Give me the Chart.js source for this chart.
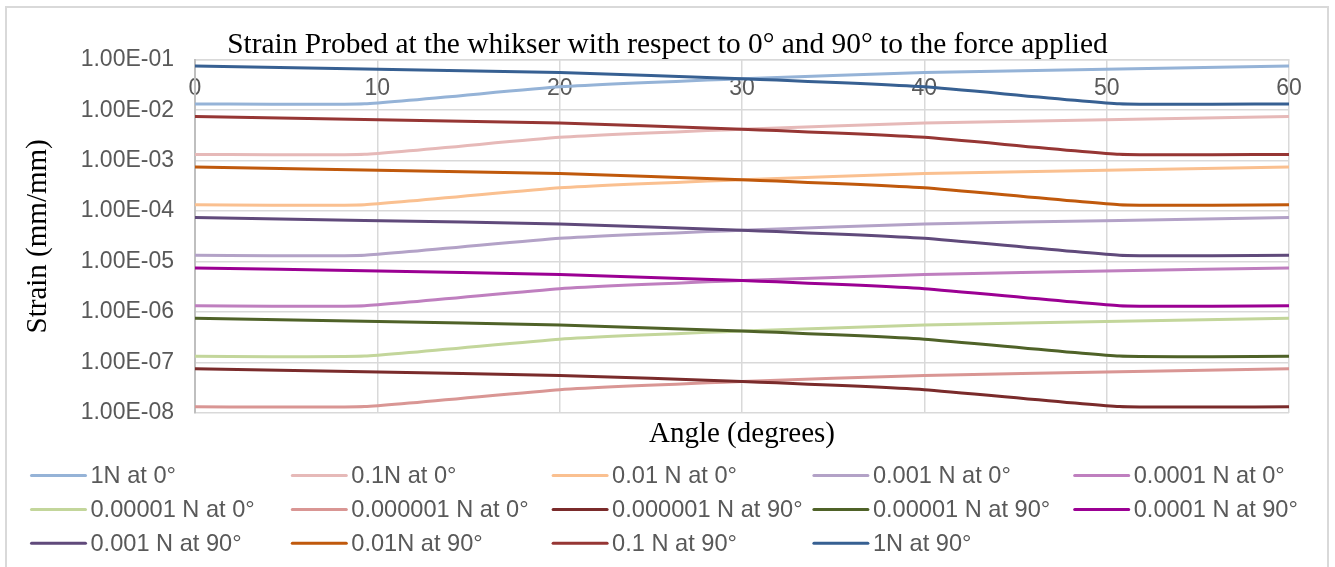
<!DOCTYPE html>
<html><head><meta charset="utf-8">
<script src="https://cdn.jsdelivr.net/npm/chart.js@4.4.1/dist/chart.umd.min.js"></script>
<style>html,body{margin:0;padding:0;background:#fff;} #wrap{width:1335px;height:567px;position:relative;}</style>
</head><body><div id="wrap"><canvas id="c" width="1335" height="567"></canvas></div>
<script>
// ---- data ----
const angles = [0, 9.3, 20, 30, 40, 50.7, 60];
const s_1N_0        = [1.33e-2, 1.34e-2, 2.9e-2, 4.2e-2, 5.55e-2, 6.55e-2, 7.5e-2];
const s_0_1N_0      = [1.33e-3, 1.34e-3, 2.9e-3, 4.2e-3, 5.55e-3, 6.55e-3, 7.5e-3];
const s_0_01N_0     = [1.33e-4, 1.34e-4, 2.9e-4, 4.2e-4, 5.55e-4, 6.55e-4, 7.5e-4];
const s_0_001N_0    = [1.33e-5, 1.34e-5, 2.9e-5, 4.2e-5, 5.55e-5, 6.55e-5, 7.5e-5];
const s_0_0001N_0   = [1.33e-6, 1.34e-6, 2.9e-6, 4.2e-6, 5.55e-6, 6.55e-6, 7.5e-6];
const s_0_00001N_0  = [1.33e-7, 1.34e-7, 2.9e-7, 4.2e-7, 5.55e-7, 6.55e-7, 7.5e-7];
const s_0_000001N_0 = [1.33e-8, 1.34e-8, 2.9e-8, 4.2e-8, 5.55e-8, 6.55e-8, 7.5e-8];
const s_0_000001N_90 = [7.5e-8, 6.55e-8, 5.55e-8, 4.2e-8, 2.9e-8, 1.34e-8, 1.33e-8];
const s_0_00001N_90  = [7.5e-7, 6.55e-7, 5.55e-7, 4.2e-7, 2.9e-7, 1.34e-7, 1.33e-7];
const s_0_0001N_90   = [7.5e-6, 6.55e-6, 5.55e-6, 4.2e-6, 2.9e-6, 1.34e-6, 1.33e-6];
const s_0_001N_90    = [7.5e-5, 6.55e-5, 5.55e-5, 4.2e-5, 2.9e-5, 1.34e-5, 1.33e-5];
const s_0_01N_90     = [7.5e-4, 6.55e-4, 5.55e-4, 4.2e-4, 2.9e-4, 1.34e-4, 1.33e-4];
const s_0_1N_90      = [7.5e-3, 6.55e-3, 5.55e-3, 4.2e-3, 2.9e-3, 1.34e-3, 1.33e-3];
const s_1N_90        = [7.5e-2, 6.55e-2, 5.55e-2, 4.2e-2, 2.9e-2, 1.34e-2, 1.33e-2];

const seriesLabels = ['1N at 0°','0.1N at 0°','0.01 N at 0°','0.001 N at 0°','0.0001 N at 0°',
  '0.00001 N at 0°','0.000001 N at 0°','0.000001 N at 90°','0.00001 N at 90°','0.0001 N at 90°',
  '0.001 N at 90°','0.01N at 90°','0.1 N at 90°','1N at 90°'];
const seriesValues = [s_1N_0, s_0_1N_0, s_0_01N_0, s_0_001N_0, s_0_0001N_0, s_0_00001N_0, s_0_000001N_0,
  s_0_000001N_90, s_0_00001N_90, s_0_0001N_90, s_0_001N_90, s_0_01N_90, s_0_1N_90, s_1N_90];
const seriesColors = ['#95B3D7','#E6B9B8','#FAC090','#B3A2C7','#BF7FBF','#C3D69B','#D99694',
  '#7A2B2B','#4F6228','#9B0093','#604A7B','#C0590C','#963634','#376092'];

const yTickValues = [1e-8, 1e-7, 1e-6, 1e-5, 1e-4, 1e-3, 1e-2, 1e-1];
const yTickLabels = ['1.00E-08','1.00E-07','1.00E-06','1.00E-05','1.00E-04','1.00E-03','1.00E-02','1.00E-01'];

const SANS = "'Liberation Sans', Arial, sans-serif";
const SERIF = "'Liberation Serif', 'Times New Roman', serif";

const datasets = seriesValues.map((arr, i) => ({
  label: seriesLabels[i],
  data: angles.map((a, j) => ({x: a, y: arr[j]})),
  borderColor: seriesColors[i],
  backgroundColor: seriesColors[i],
  borderWidth: 3,
  pointRadius: 0,
  fill: false,
  tension: 0.15,
  order: seriesValues.length - i
}));

const frame = {
  id: 'frame',
  beforeDraw(chart) {
    const ctx = chart.ctx;
    ctx.save();
    ctx.fillStyle = '#fff';
    ctx.fillRect(0, 0, chart.width, chart.height);
    ctx.strokeStyle = '#d9d9d9';
    ctx.lineWidth = 2;
    ctx.strokeRect(6, 7, 1322, 600);
    ctx.restore();
  }
};

const gridLegend = {
  id: 'gridLegend',
  afterDraw(chart) {
    const ctx = chart.ctx;
    ctx.save();
    ctx.font = '23.6px ' + SANS;
    ctx.textBaseline = 'middle';
    ctx.textAlign = 'left';
    chart.data.datasets.forEach((ds, i) => {
      const col = i % 5, row = Math.floor(i / 5);
      const x = 31.5 + col * 260.8;
      const y = 475.5 + row * 33.9;
      ctx.strokeStyle = ds.borderColor;
      ctx.lineWidth = 3;
      ctx.lineCap = 'round';
      ctx.beginPath();
      ctx.moveTo(x, y);
      ctx.lineTo(x + 54, y);
      ctx.stroke();
      ctx.fillStyle = '#595959';
      ctx.fillText(ds.label, x + 59, y + 1);
    });
    ctx.restore();
  }
};

new Chart(document.getElementById('c'), {
  type: 'line',
  data: { datasets },
  plugins: [frame, gridLegend],
  options: {
    responsive: false,
    devicePixelRatio: 1,
    animation: false,
    events: [],
    layout: { padding: { top: 0, left: 10, right: 10, bottom: 109 } },
    plugins: {
      legend: { display: false },
      tooltip: { enabled: false },
      title: {
        display: true,
        text: 'Strain Probed at the whikser with respect to 0° and 90° to the force applied',
        font: { family: SERIF, size: 29.4, weight: 'normal', lineHeight: 1 },
        color: '#000',
        padding: { top: 30.3, bottom: 0 }
      }
    },
    scales: {
      x: {
        type: 'linear', min: 0, max: 60,
        position: { y: 0.1 },
        ticks: { stepSize: 10, font: { family: SANS, size: 23 }, color: '#595959', padding: 15, maxRotation: 0 },
        grid: { color: '#d9d9d9', lineWidth: 1.5, drawTicks: false },
        border: { display: true, color: '#d9d9d9', width: 1.5 }
      },
      x2: {
        type: 'linear', min: 0, max: 60, position: 'bottom', axis: 'x',
        ticks: { display: false },
        grid: { display: false, drawTicks: false },
        border: { display: false },
        title: { display: true, text: 'Angle (degrees)', font: { family: SERIF, size: 29 }, color: '#000', padding: { top: 0, bottom: 6.6 } },
        afterFit(s) { s.height = 45; }
      },
      y: {
        type: 'logarithmic', min: 1e-8, max: 1e-1,
        afterBuildTicks(s) { s.ticks = yTickValues.map(v => ({ value: v })); },
        afterFit(s) { s.width = 185; },
        ticks: { callback: (v, i) => yTickLabels[i], font: { family: SANS, size: 23 }, color: '#595959', padding: 21, autoSkip: false },
        grid: { color: '#d9d9d9', lineWidth: 1.5, drawTicks: false },
        border: { display: true, color: '#bfbfbf', width: 2 },
        title: { display: true, text: 'Strain (mm/mm)', font: { family: SERIF, size: 29 }, color: '#000', padding: { top: 10.6, bottom: 0 } }
      },
      yR: {
        type: 'linear', position: 'right', axis: 'y', min: 0, max: 1,
        ticks: { display: false },
        grid: { display: false, drawTicks: false },
        border: { display: false },
        afterFit(s) { s.width = 36; }
      }
    }
  }
});
</script></body></html>
